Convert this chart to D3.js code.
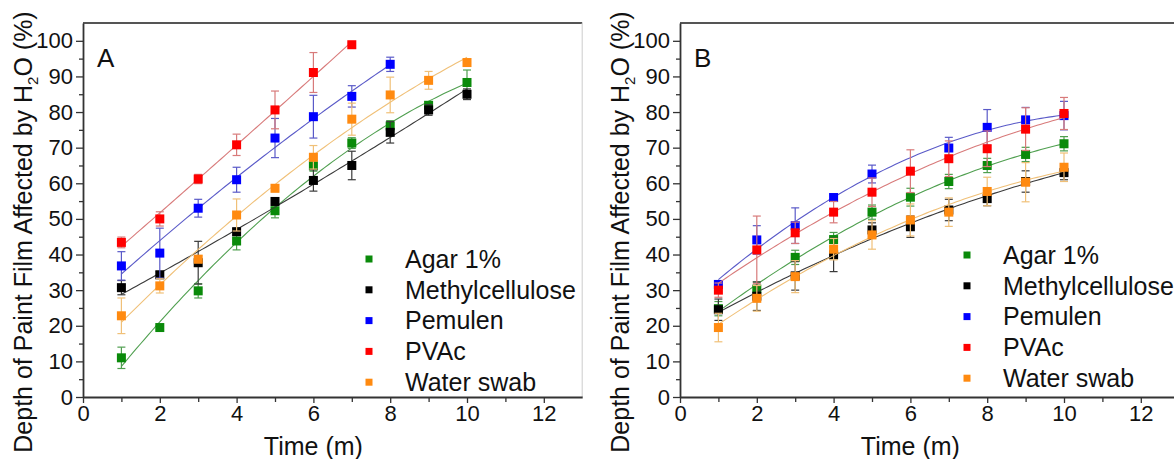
<!DOCTYPE html>
<html>
<head>
<meta charset="utf-8">
<script src="https://cdn.jsdelivr.net/npm/d3@7"></script>
<style>
  body { margin: 0; background: #fff; }
  text { font-family: "Liberation Sans", Arial, sans-serif; fill: #111; }
</style>
</head>
<body>
<svg id="chart" width="1174" height="459"></svg>
<script>
// ---- data ----
var times = [1, 2, 3, 4, 5, 6, 7, 8, 9, 10];
var seriesNames = ["Agar 1%", "Methylcellulose", "Pemulen", "PVAc", "Water swab"];
var seriesColors = ["#0a8a0a", "#000000", "#0000ff", "#ff0000", "#ff8a10"];
var lineColors = ["#4f9f4f", "#3a3a3a", "#5a5ac8", "#d87a7a", "#f0c078"];
var yTicks = [0, 10, 20, 30, 40, 50, 60, 70, 80, 90, 100];
var xTicks = [0, 2, 4, 6, 8, 10, 12];

// panel A
var agarA = [11, 19.5, 29.8, 43.8, 52.3, 64.9, 71.3, 76.1, 81.9, 88.3];
var methylA = [30.7, 34.3, 37.7, 46.4, 54.9, 60.8, 65, 74.3, 80.6, 85];
var pemulenA = [36.8, 40.4, 53, 61, 72.7, 78.7, 84.4, 93.4];
var pvacA = [43.4, 50, 61.2, 70.8, 80.6, 91.1, 98.9];
var waterA = [22.8, 31.2, 38.7, 51.1, 58.6, 67.3, 78, 84.8, 88.9, 93.9];
var agarAErr = [3, 0.5, 2, 2.5, 2, 1.5, 1.5, 1.5, 1, 3.5];
var methylAErr = [2, 1, 6, 1, 1, 3, 4, 3, 1.5, 1.5];
var pemulenAErr = [4, 7, 2.5, 3.5, 5.5, 6, 3, 2];
var pvacAErr = [1.5, 2, 1.3, 3, 5.3, 5.6, 0.5];
var waterAErr = [5, 2, 1, 4.5, 1, 3.3, 4.5, 5, 2.5, 0.5];

// panel B
var agarB = [24.8, 30.3, 39.2, 44.2, 51.9, 56.1, 60.5, 65, 68.1, 71.1];
var methylB = [24.5, 28.3, 34, 39.9, 46.9, 47.8, 52.5, 55.7, 60.5, 63];
var pemulenB = [31.6, 44.1, 48.1, 56, 62.6, null, 69.9, 75.7, 77.8, 79];
var pvacB = [30, 41.3, 46.1, 51.9, 57.5, 63.4, 66.9, 69.7, 75.2, 79.6];
var waterB = [19.5, 27.7, 33.8, 41.5, 45.5, 49.7, 51.9, 57.7, 60.3, 64.5];
var agarBErr = [2, 2, 2, 2, 2, 2.5, 2, 2, 2, 2];
var methylBErr = [3, 4, 4, 4.7, 2, 3, 3, 2, 3, 2];
var pemulenBErr = [1, 4, 5, 1, 2.5, 0, 3, 5, 3.5, 4];
var pvacBErr = [2, 9.5, 3, 3, 4, 6, 5, 5, 6, 4.5];
var waterBErr = [4, 3.6, 4.5, 3, 4, 4.5, 4, 4, 5.5, 4];

var panels = [
  { label: "A", x0: 83, values: [agarA, methylA, pemulenA, pvacA, waterA],
    errs: [agarAErr, methylAErr, pemulenAErr, pvacAErr, waterAErr],
    legendX: 369, legendY: 259 },
  { label: "B", x0: 680, values: [agarB, methylB, pemulenB, pvacB, waterB],
    errs: [agarBErr, methylBErr, pemulenBErr, pvacBErr, waterBErr],
    legendX: 967, legendY: 255 }
];

// least squares quadratic fit through the points (the smooth curves in the figure)
function quadFit(xs, ys) {
  var S = [[0,0,0],[0,0,0],[0,0,0]], b = [0,0,0];
  xs.forEach(function(x, i) {
    var p = [1, x, x*x];
    for (var r = 0; r < 3; r++) {
      b[r] += p[r] * ys[i];
      for (var c = 0; c < 3; c++) S[r][c] += p[r] * p[c];
    }
  });
  // gaussian elimination
  for (var k = 0; k < 3; k++) {
    for (var r = k + 1; r < 3; r++) {
      var f = S[r][k] / S[k][k];
      for (var c = k; c < 3; c++) S[r][c] -= f * S[k][c];
      b[r] -= f * b[k];
    }
  }
  var a = [0,0,0];
  for (var r = 2; r >= 0; r--) {
    var s = b[r];
    for (var c = r + 1; c < 3; c++) s -= S[r][c] * a[c];
    a[r] = s / S[r][r];
  }
  return function(x) { return a[0] + a[1]*x + a[2]*x*x; };
}

var svg = d3.select("#chart");
var yTop = 23, yBottom = 397, pxPerUnit = 38.4;

panels.forEach(function(p) {
  var x = d3.scaleLinear().domain([0, 13]).range([p.x0, p.x0 + 13 * pxPerUnit]);
  var y = d3.scaleLinear().domain([0, 105]).range([yBottom, yTop]);
  var g = svg.append("g");

  // frame top / right
  g.append("line").attr("x1", x(0)).attr("x2", x(13)).attr("y1", y(105)).attr("y2", y(105))
    .attr("stroke", "#555").attr("stroke-width", 2);
  g.append("line").attr("x1", x(13)).attr("x2", x(13)).attr("y1", y(105)).attr("y2", y(0))
    .attr("stroke", "#ccc").attr("stroke-width", 1);

  // minor ticks
  g.append("g").attr("transform", "translate(" + x(0) + ",0)")
    .call(d3.axisLeft(y).tickValues(d3.range(5, 105, 10)).tickSize(4).tickFormat(""))
    .call(function(a) { a.select(".domain").remove(); a.selectAll("line").attr("stroke", "#333").attr("stroke-width", 1.3); });
  g.append("g").attr("transform", "translate(0," + y(0) + ")")
    .call(d3.axisBottom(x).tickValues([1, 3, 5, 7, 9, 11]).tickSize(5).tickFormat(""))
    .call(function(a) { a.select(".domain").remove(); a.selectAll("line").attr("stroke", "#333").attr("stroke-width", 1.3); });

  // major axes
  var yAxis = g.append("g").attr("transform", "translate(" + x(0) + ",0)")
    .call(d3.axisLeft(y).tickValues(yTicks).tickSize(7).tickSizeOuter(0).tickPadding(3));
  var xAxis = g.append("g").attr("transform", "translate(0," + y(0) + ")")
    .call(d3.axisBottom(x).tickValues(xTicks).tickSize(6).tickSizeOuter(0).tickPadding(2));
  [yAxis, xAxis].forEach(function(a) {
    a.select(".domain").attr("stroke", "#333").attr("stroke-width", 1.8);
    a.selectAll("line").attr("stroke", "#333").attr("stroke-width", 1.3);
    a.selectAll("text").attr("font-size", 22).attr("fill", "#111")
      .style("font-family", "'Liberation Sans', Arial, sans-serif");
  });

  // axis titles
  g.append("text").attr("x", x(6)).attr("y", 455).attr("text-anchor", "middle")
    .attr("font-size", 25).text("Time (m)");
  var yl = g.append("text")
    .attr("transform", "translate(" + (x(0) - 51) + ",232) rotate(-90)")
    .attr("text-anchor", "middle").attr("font-size", 25);
  yl.append("tspan").text("Depth of Paint Film Affected by H");
  yl.append("tspan").attr("dy", 6).attr("font-size", 15).text("2");
  yl.append("tspan").attr("dy", -6).text("O (%)");

  // panel letter
  g.append("text").attr("x", x(0) + 14).attr("y", 67).attr("font-size", 26).text(p.label);

  // series
  p.values.forEach(function(vals, si) {
    var pts = [];
    vals.forEach(function(v, i) {
      if (v !== null) pts.push({ t: times[i], v: v, e: p.errs[si][i] });
    });
    var fit = quadFit(pts.map(function(d) { return d.t; }), pts.map(function(d) { return d.v; }));
    var tMin = pts[0].t, tMax = pts[pts.length - 1].t;
    var curve = d3.range(tMin, tMax + 0.001, 0.1).map(function(t) { return [t, fit(t)]; });
    var sg = g.append("g");
    sg.append("path").datum(curve)
      .attr("d", d3.line().x(function(d) { return x(d[0]); }).y(function(d) { return y(d[1]); }))
      .attr("fill", "none").attr("stroke", lineColors[si]).attr("stroke-width", 1.1);

    var eb = sg.selectAll(".err").data(pts.filter(function(d) { return d.e > 0; })).enter().append("g");
    eb.append("line").attr("x1", function(d) { return x(d.t); }).attr("x2", function(d) { return x(d.t); })
      .attr("y1", function(d) { return y(d.v - d.e); }).attr("y2", function(d) { return y(d.v + d.e); });
    eb.append("line").attr("x1", function(d) { return x(d.t) - 4; }).attr("x2", function(d) { return x(d.t) + 4; })
      .attr("y1", function(d) { return y(d.v + d.e); }).attr("y2", function(d) { return y(d.v + d.e); });
    eb.append("line").attr("x1", function(d) { return x(d.t) - 4; }).attr("x2", function(d) { return x(d.t) + 4; })
      .attr("y1", function(d) { return y(d.v - d.e); }).attr("y2", function(d) { return y(d.v - d.e); });
    eb.selectAll("line").attr("stroke", lineColors[si]).attr("stroke-width", 1.2);

    sg.selectAll("rect").data(pts).enter().append("rect")
      .attr("x", function(d) { return x(d.t) - 4.5; })
      .attr("y", function(d) { return y(d.v) - 4.5; })
      .attr("width", 9).attr("height", 9)
      .attr("fill", seriesColors[si]);
  });

  // legend
  var lg = g.append("g");
  seriesNames.forEach(function(name, i) {
    var ly = p.legendY + i * 30.8;
    lg.append("rect").attr("x", p.legendX - 3.5).attr("y", ly - 3.5).attr("width", 7).attr("height", 7)
      .attr("fill", seriesColors[i]);
    lg.append("text").attr("x", p.legendX + 36).attr("y", ly).attr("dy", "0.35em")
      .attr("font-size", 25).text(name);
  });
});
</script>
</body>
</html>
